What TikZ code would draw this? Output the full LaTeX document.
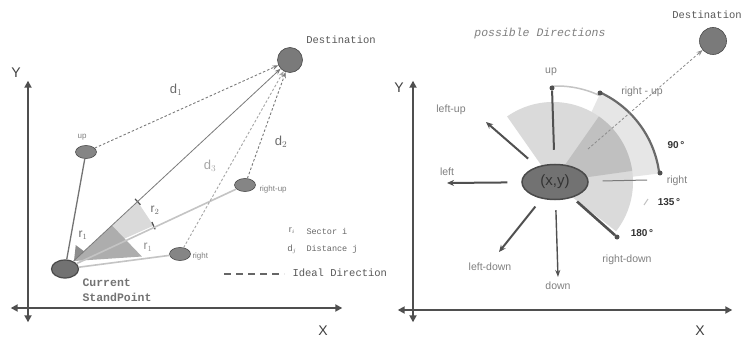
\documentclass[tikz,border=0pt]{standalone}
\usepackage{fontspec}
\setmainfont{Liberation Sans}
\newfontfamily\monofont{Liberation Mono}
\usetikzlibrary{arrows.meta,shapes.geometric,calc}
\definecolor{axisc}{HTML}{4F4F4F}
\definecolor{darkln}{HTML}{505050}
\definecolor{midln}{HTML}{7A7A7A}
\definecolor{lightln}{HTML}{C4C4C4}
\definecolor{nodefill}{HTML}{727272}
\definecolor{nodedraw}{HTML}{4A4A4A}
\definecolor{smallfill}{HTML}{858585}
\definecolor{secA}{HTML}{DADADA}
\definecolor{secB}{HTML}{C0C0C0}
\definecolor{secC}{HTML}{E6E6E6}
\definecolor{txtc}{HTML}{6A6A6A}
\begin{document}
\begin{tikzpicture}[x=1pt,y=-1pt,
  axis/.style={draw=axisc, line width=2pt, {Triangle[length=7pt,width=7pt]}-{Triangle[length=7pt,width=7pt]}},
  destdot/.style={circle, fill=midln, draw=nodedraw, line width=0.6pt, minimum size=25pt, inner sep=0pt},
  curnode/.style={ellipse, fill=nodefill, draw=nodedraw, line width=1.2pt, minimum width=27pt, minimum height=18pt, inner sep=0pt},
  smallpt/.style={ellipse, fill=smallfill, draw=nodedraw, line width=0.6pt, minimum width=21pt, minimum height=13pt, inner sep=0pt},
  centernode/.style={ellipse, fill=nodefill, draw=nodedraw, line width=1.5pt, minimum width=66pt, minimum height=35pt, inner sep=0pt, font=\fontsize{15}{15}\selectfont, text=black!80},
  dl/.style={draw=midln, line width=0.9pt, dash pattern=on 2.5pt off 2pt, -{Stealth[length=6pt,width=4.5pt]}},
  dirarrow/.style={draw=darkln, line width=2pt, -{Stealth[length=7pt,width=6pt]}},
  dotpt/.style={circle, fill=darkln, minimum size=5pt, inner sep=0pt},
  axislabel/.style={font=\fontsize{14}{14}\selectfont, text=black!75},
  monolabel/.style={font=\monofont\fontsize{11.5}{12}\selectfont, text=black!65},
  dirlabel/.style={font=\fontsize{10.5}{11}\selectfont, text=black!50},
  anglabel/.style={font=\bfseries\fontsize{10}{10}\selectfont, text=black!80},
  dlabel/.style={font=\fontsize{13}{13}\selectfont, text=txtc},
  leglabel/.style={font=\monofont\fontsize{8.5}{9}\selectfont, text=black!60}
]
\useasboundingbox[fill=white] (0,0) rectangle (746,339);

% ================= LEFT PANEL =================
\coordinate (pCur) at (65,269);
\coordinate (pDest) at (290,60);
\coordinate (pUp) at (86,152);
\coordinate (pRU) at (245,185);
\coordinate (pRt) at (180,254);
\coordinate (O) at (74,261);

% sector wedges
\fill[secA] (O) -- ($(O)!87pt!(pDest)$) -- ($(O)!87pt!(pRU)$) -- cycle;
\fill[secB!90!black] (O) -- ($(O)!52pt!(pDest)$) -- ($(O)!68pt!(pRt)$) -- cycle;
\fill[black!45] (O) -- ($(O)!16pt!(pUp)$) -- ($(O)!14pt!(pDest)$) -- cycle;
% r2 ticks
\draw[darkln, line width=1.2pt] ($($(O)!87pt!(pDest)$)!4pt!90:(O)$) -- ($($(O)!87pt!(pDest)$)!4pt!-90:(O)$);
\draw[darkln, line width=1.2pt] ($($(O)!87pt!(pRU)$)!4pt!90:(O)$) -- ($($(O)!87pt!(pRU)$)!4pt!-90:(O)$);

% axes
\node[inner sep=0pt] (yTopL) at (28,80) {};
\node[inner sep=0pt] (yBotL) at (28,323) {};
\node[inner sep=0pt] (xLeftL) at (10,308) {};
\node[inner sep=0pt] (xRightL) at (343,308) {};
\draw[axis] (yBotL) -- (yTopL);
\draw[axis] (xLeftL) -- (xRightL);
\node[axislabel] (Ylab) at (16,73) {Y};
\node[axislabel] (Xlab) at (323,331) {X};

% nodes
\node[destdot] (destL) at (pDest) {};
\node[curnode] (cur) at (pCur) {};
\node[smallpt] (up) at (pUp) {};
\node[smallpt] (ru) at (pRU) {};
\node[smallpt] (rt) at (pRt) {};

% connectors
\draw[black!55, line width=1.3pt] (cur) -- (up);
\draw[lightln, line width=1.6pt] (cur) -- (ru);
\draw[lightln, line width=1.6pt] (cur) -- (rt);
\draw[midln, line width=0.8pt, -{Stealth[length=6pt,width=4.5pt]}] (cur) -- (destL);
\draw[dl] (up) -- (destL);
\draw[dl] (ru) -- (destL);
\draw[dl, draw=black!35] (rt) -- (destL);

% labels
\node[monolabel, font=\monofont\fontsize{10.5}{11}\selectfont] (destLlab) at (341,40) {Destination};
\node[monolabel, font=\monofont\bfseries\fontsize{11.5}{12}\selectfont, text=black!55, anchor=west] (curlab1) at (79,283) {Current};
\node[monolabel, font=\monofont\bfseries\fontsize{11.5}{12}\selectfont, text=black!55, anchor=west] (curlab2) at (79,297) {StandPoint};
\node[dirlabel, font=\fontsize{8}{8}\selectfont] (uplab) at (82,137) {up};
\node[dirlabel, font=\fontsize{8}{8}\selectfont, anchor=west] (rulab) at (256,189) {right-up};
\node[dirlabel, font=\fontsize{8}{8}\selectfont, anchor=west] (rtlab) at (189,256) {right};
\node[dlabel] (d1) at (176,90) {d$_1$};
\node[dlabel] (d2) at (281,142) {d$_2$};
\node[dlabel, text=black!35] (d3) at (210,166) {d$_3$};
\node[dlabel, font=\fontsize{12}{12}\selectfont] (r1a) at (83,235) {r$_1$};
\node[dlabel, font=\fontsize{12}{12}\selectfont] (r2) at (155,210) {r$_2$};
\node[dlabel, font=\fontsize{12}{12}\selectfont, text=black!45] (r1b) at (148,247) {r$_1$};

% legend
\node[dlabel, font=\fontsize{9}{9}\selectfont, text=black!60] (ri) at (292,231) {r$_i$};
\node[leglabel, anchor=west] (sect) at (303,231) {Sector i};
\node[dlabel, font=\fontsize{9}{9}\selectfont, text=black!60] (dj) at (292,249) {d$_j$};
\node[leglabel, anchor=west] (dist) at (303,249) {Distance j};
\coordinate (legA) at (224,274);
\coordinate (legB) at (284,274);
\draw[black!60, line width=2.5pt, dash pattern=on 7pt off 5pt] (legA) -- (legB);
\node[monolabel, font=\monofont\fontsize{10.5}{11}\selectfont, anchor=west] (ideal) at (289,273) {Ideal Direction};

% ================= RIGHT PANEL =================
\coordinate (S) at (553,182);
\coordinate (S2) at (557,186);

\fill[secC] (S2) -- ++(7:103pt) arc[start angle=7, end angle=65, radius=103pt] -- cycle;
\fill[secA] (S) -- ++(125:80pt) arc[start angle=125, end angle=-38, radius=80pt] -- cycle;
\fill[secB] (S) -- ++(8:80pt) arc[start angle=8, end angle=55, radius=80pt] -- cycle;
\draw[lightln, line width=1.5pt] ($(S2)+(65:100pt)$) arc[start angle=65, end angle=93, radius=100pt];
\draw[darkln!85, line width=2.2pt] ($(S2)+(7:103pt)$) arc[start angle=7, end angle=65, radius=103pt];

% axes
\node[inner sep=0pt] (yTopR) at (413,80) {};
\node[inner sep=0pt] (yBotR) at (413,323) {};
\node[inner sep=0pt] (xLeftR) at (397,310) {};
\node[inner sep=0pt] (xRightR) at (733,310) {};
\draw[axis] (yBotR) -- (yTopR);
\draw[axis] (xLeftR) -- (xRightR);
\node[axislabel] (YlabR) at (399,88) {Y};
\node[axislabel] (XlabR) at (700,331) {X};

% nodes
\node[centernode] (ctr) at (555,182) {(x,y)};
\node[destdot, minimum size=27pt] (destR) at (713,41) {};
\node[dotpt] (updot) at (552,88) {};
\node[dotpt] (rudot) at (600,93) {};
\node[dotpt] (rtdot) at (660,173) {};
\node[dotpt] (rddot) at (617,237) {};
\coordinate (luEnd) at (486,122);
\coordinate (lEnd) at (447,183);
\coordinate (ldEnd) at (499,252);
\coordinate (dEnd) at (558,277);
\coordinate (rEnd) at (647,180);
\coordinate (dirStart) at (588,149);

% direction arrows
\draw[darkln, line width=2pt, shorten <=14pt] (ctr) -- (updot);
\draw[dirarrow, shorten <=12pt] (ctr) -- (luEnd);
\draw[dirarrow, shorten <=14pt] (ctr) -- (lEnd);
\draw[dirarrow, shorten <=10pt] (ctr) -- (ldEnd);
\draw[darkln, line width=1.4pt, -{Stealth[length=7pt,width=5pt]}, shorten <=10pt] (ctr) -- (dEnd);
\draw[darkln, line width=2.6pt, shorten <=6pt] (ctr) -- (rddot);
\draw[midln, line width=1pt, shorten <=14pt] (ctr) -- (rEnd);
\draw[dl, line width=0.8pt, draw=black!45] (dirStart) -- (destR);
\draw[lightln, line width=1pt] (644,205) -- (648,199);

% labels
\node[monolabel, font=\monofont\itshape\fontsize{11.5}{12}\selectfont, text=black!50] (posdir) at (540,34) {possible Directions};
\node[monolabel, font=\monofont\fontsize{10.5}{11}\selectfont] (destRlab) at (707,15) {Destination};
\node[dirlabel] (uplabR) at (551,72) {up};
\node[dirlabel] (lulab) at (451,110) {left-up};
\node[dirlabel] (llab) at (447,172) {left};
\node[dirlabel] (ldlab) at (490,267) {left-down};
\node[dirlabel] (dlab) at (558,286) {down};
\node[dirlabel] (rdlab) at (627,260) {right-down};
\node[dirlabel] (rlab) at (677,181) {right};
\node[dirlabel] (rulabR) at (642,92) {right - up};
\node[anglabel] (a90) at (676,145) {90\,°};
\node[anglabel] (a135) at (669,202) {135\,°};
\node[anglabel] (a180) at (642,233) {180\,°};
\end{tikzpicture}
\end{document}
